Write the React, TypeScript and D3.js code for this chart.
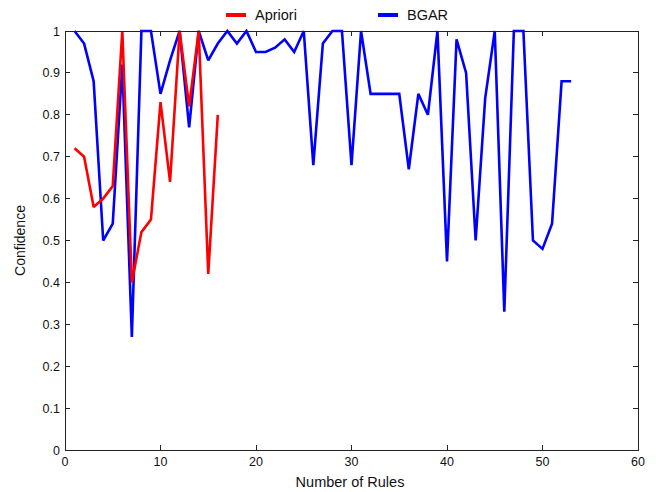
import React from "react";
import * as d3 from "d3";

const aprioriX = [1, 2, 3, 4, 5, 6, 7, 8, 9, 10, 11, 12, 13, 14, 15, 16];
const aprioriY = [0.72, 0.70, 0.58, 0.60, 0.63, 1.0, 0.40, 0.52, 0.55, 0.83, 0.64, 1.0, 0.82, 1.0, 0.42, 0.80];

const bgarX = Array.from({ length: 53 }, (_, i) => i + 1);
const bgarY = [
  1.0, 0.97, 0.88, 0.50, 0.54, 0.92, 0.27, 1.0, 1.0, 0.85,
  0.93, 1.0, 0.77, 1.0, 0.93, 0.97, 1.0, 0.97, 1.0, 0.95,
  0.95, 0.96, 0.98, 0.95, 1.0, 0.68, 0.97, 1.0, 1.0, 0.68,
  1.0, 0.85, 0.85, 0.85, 0.85, 0.67, 0.85, 0.80, 1.0, 0.45,
  0.98, 0.90, 0.50, 0.84, 1.0, 0.33, 1.0, 1.0, 0.50, 0.48,
  0.54, 0.88, 0.88,
];

const xTicks = [0, 10, 20, 30, 40, 50, 60];
const yTicks = [0, 0.1, 0.2, 0.3, 0.4, 0.5, 0.6, 0.7, 0.8, 0.9, 1];
const seriesNames = ["Apriori", "BGAR"];
const seriesColors = ["#ff0000", "#0000ff"];

const W = 656;
const H = 492;
const L = 65, R = 638, T = 31, B = 450;
const FONT = "Arial, 'Liberation Sans', sans-serif";

export default function App() {
  const x = d3.scaleLinear().domain([0, 60]).range([L, R]);
  const y = d3.scaleLinear().domain([0, 1]).range([B, T]);
  const line = d3
    .line<[number, number]>()
    .x((d) => x(d[0]))
    .y((d) => y(d[1]));
  const aPts = aprioriX.map((v, i) => [v, aprioriY[i]] as [number, number]);
  const bPts = bgarX.map((v, i) => [v, bgarY[i]] as [number, number]);
  const fmt = (v: number) => (v === 0 || v === 1 ? String(v) : v.toFixed(1));
  const tickLen = 5;
  return (
    <svg
      width={W}
      height={H}
      style={{ position: "absolute", left: 0, top: 0, background: "#fff" }}
      fontFamily={FONT}
    >
      <rect x={0} y={0} width={W} height={H} fill="#fff" />
      <defs>
        <clipPath id="plotclip">
          <rect x={L} y={T - 2} width={R - L} height={B - T + 4} />
        </clipPath>
      </defs>
      <g clipPath="url(#plotclip)">
        <path d={line(bPts) || ""} fill="none" stroke={seriesColors[1]} strokeWidth={2.6} strokeLinejoin="miter" strokeMiterlimit={2} />
        <path d={line(aPts) || ""} fill="none" stroke={seriesColors[0]} strokeWidth={2.6} strokeLinejoin="miter" strokeMiterlimit={2} />
      </g>
      <rect x={L} y={T} width={R - L} height={B - T} fill="none" stroke="#222" strokeWidth={1} shapeRendering="crispEdges" />
      {xTicks.map((t) => (
        <g key={"x" + t}>
          <line x1={x(t)} x2={x(t)} y1={B} y2={B - tickLen} stroke="#222" shapeRendering="crispEdges" />
          <line x1={x(t)} x2={x(t)} y1={T} y2={T + tickLen} stroke="#222" shapeRendering="crispEdges" />
          <text x={x(t)} y={B + 16} textAnchor="middle" fontSize={12.5} fill="#111">
            {t}
          </text>
        </g>
      ))}
      {yTicks.map((t) => (
        <g key={"y" + t}>
          <line x1={L} x2={L + tickLen} y1={y(t)} y2={y(t)} stroke="#222" shapeRendering="crispEdges" />
          <line x1={R} x2={R - tickLen} y1={y(t)} y2={y(t)} stroke="#222" shapeRendering="crispEdges" />
          <text x={L - 5} y={y(t) + 4.5} textAnchor="end" fontSize={12.5} fill="#111">
            {fmt(t)}
          </text>
        </g>
      ))}
      <text x={350} y={487} textAnchor="middle" fontSize={14.5} fill="#111">
        Number of Rules
      </text>
      <text
        transform={`translate(25, ${(T + B) / 2}) rotate(-90)`}
        textAnchor="middle"
        fontSize={14}
        fill="#111"
      >
        Confidence
      </text>
      {seriesNames.map((n, i) => (
        <g key={n} transform={`translate(${226 + i * 152}, 15)`}>
          <line x1={0} x2={20} y1={0} y2={0} stroke={seriesColors[i]} strokeWidth={4} />
          <text x={29} y={5} fontSize={14.5} fill="#111">
            {n}
          </text>
        </g>
      ))}
    </svg>
  );
}
